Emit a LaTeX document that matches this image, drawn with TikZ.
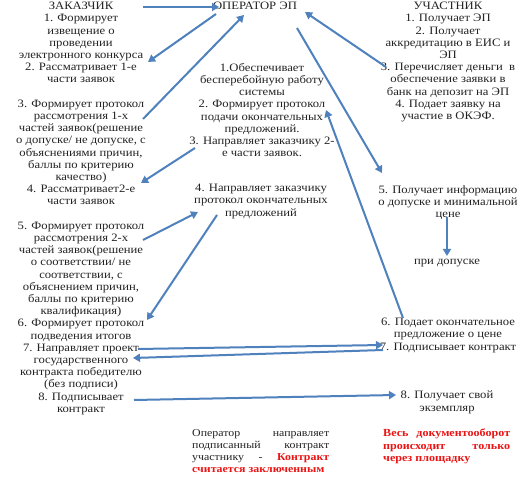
\documentclass[tikz,border=0pt]{standalone}
\usepackage{fontspec}
\setmainfont{Liberation Serif}[FakeStretch=1.12]
\usetikzlibrary{arrows.meta}
\definecolor{arr}{RGB}{79,129,189}
\definecolor{txt}{RGB}{35,35,35}
\definecolor{redt}{RGB}{235,20,20}
\begin{document}
\begin{tikzpicture}[x=1pt,y=-1pt,
  conn/.style={draw=arr,line width=2pt,-{Triangle[length=7pt,width=8pt]}},
  col/.style={align=center,inner sep=0pt,font=\fontsize{11.3}{12.2}\selectfont,text=txt},
  note/.style={inner sep=0pt,anchor=north west,font=\fontsize{10.6}{12.2}\selectfont,text=txt},
]
\useasboundingbox (0,0) rectangle (531,486);
\fill[white] (0,0) rectangle (531,486);

% customer column
\node[col,anchor=north] (cust) at (81,2) {ЗАКАЗЧИК\\
1. Формирует\\
извещение о\\
проведении\\
электронного конкурса\\
2. Рассматривает 1-е\\
части заявок\\[12.2pt]
3. Формирует протокол\\
рассмотрения 1-х\\
частей заявок(решение\\
о допуске/ не допуске, с\\
объяснениями причин,\\
баллы по критерию\\
качество)\\
4. Рассматривает2-е\\
части заявок\\[12.2pt]
5. Формирует протокол\\
рассмотрения 2-х\\
частей заявок(решение\\
о соответствии/ не\\
соответствии, с\\
объяснением причин,\\
баллы по критерию\\
квалификация)\\
6. Формирует протокол\\
подведения итогов\\
7. Направляет проект\\
государственного\\
контракта победителю\\
(без подписи)\\
8. Подписывает\\
контракт};

% operator column
\node[col] (op) at (255,6) {ОПЕРАТОР ЭП};
\node[col,anchor=north] (opA) at (262,63) {1.Обеспечивает\\
бесперебойную работу\\
системы\\
2. Формирует протокол\\
подачи окончательных\\
предложений.\\
3. Направляет заказчику 2-\\
е части заявок.};
\node[col,anchor=north] (opB) at (261,184) {4. Направляет заказчику\\
протокол окончательных\\
предложений};

% participant column
\node[col,anchor=north] (part) at (448,2) {УЧАСТНИК\\
1. Получает ЭП\\
2. Получает\\
аккредитацию в ЕИС и\\
ЭП\\
3. Перечисляет деньги~ в\\
обеспечение заявки в\\
банк на депозит на ЭП\\
4. Подает заявку на\\
участие в ОКЭФ.};
\node[col,anchor=north] (part5) at (448,185) {5. Получает информацию\\
о допуске и минимальной\\
цене};
\node[col] (dop) at (447,263) {при допуске};
\node[col,anchor=north] (part6) at (448,318) {6. Подает окончательное\\
предложение о цене\\
7. Подписывает контракт};
\node[col,anchor=north] (part8) at (447,391) {8. Получает свой\\
экземпляр};

% notes
\node[note] (opnote) at (192,429) {\parbox{137pt}{Оператор направляет\linebreak подписанный контракт\linebreak участнику - {\bfseries\color{redt}Контракт\linebreak считается заключенным}}};
\node[note,font=\fontsize{10.8}{12.2}\selectfont\bfseries,text=redt] (rednote) at (383,429) {\parbox{127pt}{Весь документооборот\linebreak происходит только\linebreak через площадку}};

% connector end points
\coordinate (c1s) at (143,7);   \coordinate (c1e) at (219,7);
\coordinate (c2s) at (216,14);  \coordinate (c2e) at (148,62);
\coordinate (c3s) at (143,119); \coordinate (c3e) at (244,15);
\coordinate (c4s) at (195,148); \coordinate (c4e) at (141,183);
\coordinate (c5s) at (143,240); \coordinate (c5e) at (198,212);
\coordinate (c6s) at (217,215); \coordinate (c6e) at (147,320);
\coordinate (c7s) at (138,349); \coordinate (c7e) at (383,345);
\coordinate (c8s) at (383,350); \coordinate (c8e) at (133,358);
\coordinate (c9s) at (134,400); \coordinate (c9e) at (396,395);
\coordinate (c10s) at (386,67); \coordinate (c10e) at (305,12);
\coordinate (c11s) at (297,28); \coordinate (c11e) at (382,173);
\coordinate (c12s) at (403,318);\coordinate (c12e) at (326,110);
\coordinate (c13s) at (447,217);\coordinate (c13e) at (447,256);

\draw[conn] (c1s) -- (c1e);
\draw[conn] (c2s) -- (c2e);
\draw[conn] (c3s) -- (c3e);
\draw[conn] (c4s) -- (c4e);
\draw[conn] (c5s) -- (c5e);
\draw[conn] (c6s) -- (c6e);
\draw[conn] (c7s) -- (c7e);
\draw[conn] (c8s) -- (c8e);
\draw[conn] (c9s) -- (c9e);
\draw[conn] (c10s) -- (c10e);
\draw[conn] (c11s) -- (c11e);
\draw[conn] (c12s) -- (c12e);
\draw[conn] (c13s) -- (c13e);
\end{tikzpicture}
\end{document}
